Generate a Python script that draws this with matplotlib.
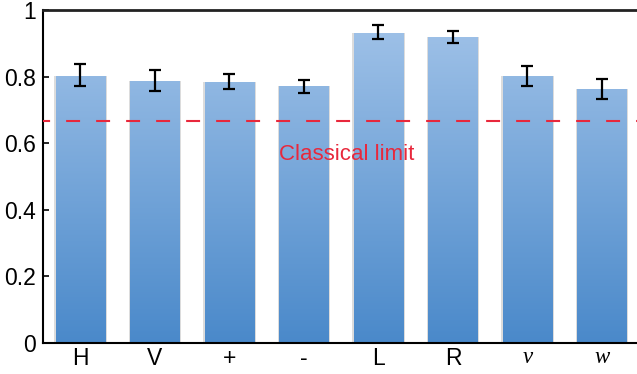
import numpy as np
import matplotlib
matplotlib.use("Agg")
import matplotlib.pyplot as plt
from matplotlib.colors import LinearSegmentedColormap

# DATOS
etiquetas = ["H", "V", "+", "-", "L", "R", "v", "w"]
valores = [0.803, 0.787, 0.784, 0.771, 0.932, 0.918, 0.801, 0.762]
centros_err = [0.806, 0.788, 0.786, 0.770, 0.934, 0.920, 0.802, 0.763]
errores = [0.033, 0.031, 0.022, 0.020, 0.021, 0.018, 0.029, 0.030]
limite_clasico = 2 / 3

plt.rcParams["font.family"] = ["Liberation Sans", "DejaVu Sans"]

fig = plt.figure(figsize=(6.37, 3.74), dpi=100)
ax = fig.add_axes([0.0675, 0.083, 0.9325, 0.890])

x = np.arange(len(etiquetas))
ancho = 0.67

# degradado azul (claro arriba, oscuro abajo)
cmap = LinearSegmentedColormap.from_list("azul", ["#4a89ca", "#a3c4e9"])
grad = np.linspace(0, 1, 256).reshape(-1, 1)

# sombra gris a los lados de cada barra
ax.bar(x, valores, width=ancho + 0.035, color="#dcdcdc", zorder=1)
barras = ax.bar(x, valores, width=ancho, color="none", zorder=2)
for b in barras:
    im = ax.imshow(grad, cmap=cmap, vmin=0, vmax=1, origin="lower",
                   extent=[-0.6, 7.6, 0, 1], aspect="auto", zorder=2)
    im.set_clip_path(b)

ax.errorbar(x, centros_err, yerr=errores, fmt="none", ecolor="black",
            elinewidth=1.6, capsize=4.5, capthick=1.6, zorder=4)

ax.axhline(limite_clasico, color="#e8283c", lw=1.5, zorder=3,
           linestyle=(3.3, (6.7, 7.7)), dash_capstyle="butt")
ax.text(2.66, 0.565, "Classical limit", color="#e8283c", fontsize=16,
        ha="left", va="center", zorder=5)

ax.set_xlim(-0.503, 7.47)
ax.set_ylim(0, 1)
ax.set_yticks([0, 0.2, 0.4, 0.6, 0.8, 1])
ax.set_yticklabels(["0", "0.2", "0.4", "0.6", "0.8", "1"])
ax.tick_params(axis="y", direction="in", length=4, width=1.2, labelsize=16.5, pad=5)
ax.set_xticks(x)
ax.set_xticklabels(etiquetas)
ax.tick_params(axis="x", length=0, labelsize=16.5, pad=3)
for t in ax.get_xticklabels():
    if t.get_text() in ("v", "w"):
        t.set_family("Liberation Serif")
        t.set_style("italic")

ax.spines["right"].set_visible(False)
ax.spines["top"].set_linewidth(2)
ax.spines["top"].set_color("#222222")
ax.spines["left"].set_linewidth(1.5)
ax.spines["bottom"].set_linewidth(1.5)

plt.savefig("out.png", dpi=100)
